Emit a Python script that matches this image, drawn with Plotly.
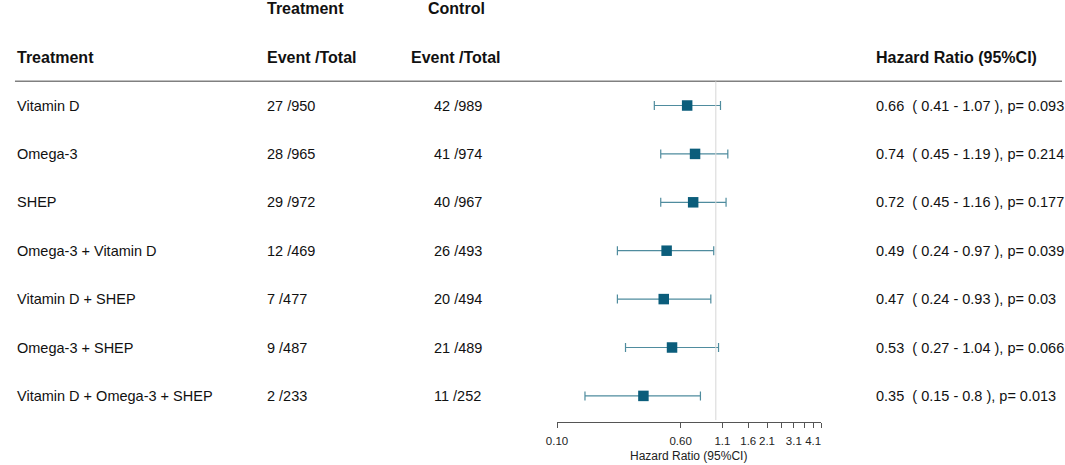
import numpy as np
import plotly.graph_objects as go

# rows of the forest plot (top to bottom)
groups = ["Vitamin D", "Omega-3", "SHEP", "Omega-3 + Vitamin D",
          "Vitamin D + SHEP", "Omega-3 + SHEP", "Vitamin D + Omega-3 + SHEP"]
trt_events = [27, 28, 29, 12, 7, 9, 2]
trt_totals = [950, 965, 972, 469, 477, 487, 233]
ctl_events = [42, 41, 40, 26, 20, 21, 11]
ctl_totals = [989, 974, 967, 493, 494, 489, 252]
hr = [0.66, 0.74, 0.72, 0.49, 0.47, 0.53, 0.35]
ci_low = [0.41, 0.45, 0.45, 0.24, 0.24, 0.27, 0.15]
ci_high = [1.07, 1.19, 1.16, 0.97, 0.93, 1.04, 0.8]
pvals = ["0.093", "0.214", "0.177", "0.039", "0.03", "0.066", "0.013"]

tick_vals = [0.1, 0.6, 1.1, 1.6, 2.1, 2.6, 3.1, 3.6, 4.1, 4.6]
tick_text = ["0.10", "0.60", "1.1", "1.6", "2.1", "", "3.1", "", "4.1", ""]

W, H = 1065, 465
rows = list(range(len(groups)))
FONT = "Arial, Liberation Sans, sans-serif"

fig = go.Figure()

fig.add_trace(go.Scatter(
    x=hr, y=rows, mode="markers",
    marker=dict(symbol="square", size=10.5, color="#0b5d7b"),
    error_x=dict(type="data", symmetric=False,
                 array=[hi - h for hi, h in zip(ci_high, hr)],
                 arrayminus=[h - lo for lo, h in zip(ci_low, hr)],
                 color="#4f8c9e", thickness=1.2, width=4.5),
    hoverinfo="skip", showlegend=False,
))

ann = []
def txt(x, y, s, bold=False, anchor="left", size=14.5):
    ann.append(dict(x=x / W, y=y, xref="paper", yref="y", text=f"<b>{s}</b>" if bold else s,
                    showarrow=False, xanchor=anchor, yanchor="middle",
                    font=dict(family=FONT, size=16 if bold else size, color="#111111")))

# headers
txt(257, -2, "Treatment", bold=True)
txt(450, -2, "Control", bold=True, anchor="center")
txt(4, -1, "Treatment", bold=True)
txt(257, -1, "Event /Total", bold=True)
txt(450, -1, "Event /Total", bold=True, anchor="center")
txt(872, -1, "Hazard Ratio (95%CI)", bold=True)

for i, g in enumerate(groups):
    txt(4, i, g)
    txt(257, i, f"{trt_events[i]} /{trt_totals[i]}")
    txt(425, i, f"{ctl_events[i]} /{ctl_totals[i]}")
    txt(872, i, f"{hr[i]}\u00a0\u00a0( {ci_low[i]} - {ci_high[i]} ), p= {pvals[i]}")

# axis title
ann.append(dict(x=685 / W, y=1 - 456 / H, xref="paper", yref="paper", yanchor="middle",
                text="Hazard Ratio (95%CI)", showarrow=False,
                font=dict(family=FONT, size=12, color="#222222")))

shapes = [
    dict(type="line", xref="paper", yref="y", x0=4 / W, x1=1062 / W, y0=-0.5, y1=-0.5,
         line=dict(color="#808080", width=1.5)),
    dict(type="line", xref="x", yref="y", x0=1, x1=1, y0=-0.5, y1=6.5,
         line=dict(color="#d6d6d6", width=1)),
]

ytop = -105.5 / 48.4
ybot = ytop + H / 48.4

fig.update_layout(
    width=W, height=H,
    margin=dict(l=0, r=0, t=0, b=0),
    plot_bgcolor="white", paper_bgcolor="white",
    annotations=ann, shapes=shapes,
    xaxis=dict(type="log", range=[-1, np.log10(4.6) + 0.001],
               domain=[551.7 / W, 818.7 / W],
               anchor="free", position=1 - 421.7 / H,
               tickvals=tick_vals, ticktext=tick_text,
               ticks="outside", ticklen=5, tickcolor="#555555",
               ticklabelstandoff=3,
               showline=True, linecolor="#555555", linewidth=1,
               showgrid=False, zeroline=False,
               tickfont=dict(family=FONT, size=11.5, color="#222222")),
    yaxis=dict(range=[ybot, ytop], visible=False, showgrid=False, zeroline=False,
               domain=[0, 1]),
)

# the page is shown in a window of exactly the figure size, so drop the body margin
fig.write_html("out.html", config={"displayModeBar": False},
               post_script="document.body.style.margin='0';")
